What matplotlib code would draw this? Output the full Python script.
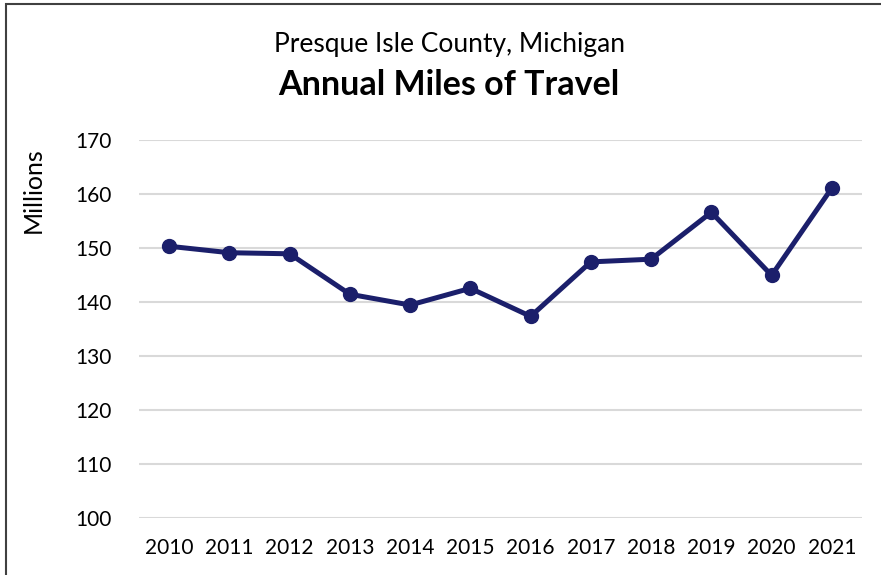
import matplotlib.pyplot as plt
from matplotlib.patches import Rectangle

years = [2010, 2011, 2012, 2013, 2014, 2015, 2016, 2017, 2018, 2019, 2020, 2021]
miles = [150.3, 149.1, 148.9, 141.4, 139.4, 142.5, 137.3, 147.4, 147.9, 156.6, 144.9, 161.1]
yticks = [100, 110, 120, 130, 140, 150, 160, 170]

plt.rcParams['font.family'] = ['Lato', 'DejaVu Sans']

fig = plt.figure(figsize=(8.81, 5.75), dpi=100)
ax = fig.add_axes([0.1578, 0.1, 0.8206, 0.6565])

ax.plot(years, miles, color='#1b1f6b', linewidth=3.6, marker='o', markersize=10,
        solid_joinstyle='round', zorder=3)

ax.set_xlim(2009.5, 2021.5)
ax.set_ylim(100, 170)
ax.set_xticks(years)
ax.set_xticklabels([str(y) for y in years])
ax.set_yticks(yticks)
ax.grid(axis='y', color='#d9d9d9', linewidth=1.5)
ax.set_axisbelow(True)
for s in ax.spines.values():
    s.set_visible(False)
ax.tick_params(length=0, labelsize=15, pad=15, colors='black')
ax.tick_params(axis='y', pad=20)
ax.set_ylabel('Millions', fontsize=18)
ax.yaxis.set_label_coords(-0.131, 0.868)

fig.text(0.51, 0.923, 'Presque Isle County, Michigan', ha='center', va='center', fontsize=19)
fig.text(0.51, 0.852, 'Annual Miles of Travel', ha='center', va='center',
         fontsize=24.5, fontweight='bold')

# outer frame, open on the right and bottom
fig.patches.append(Rectangle((6 / 881, -0.1), 1.1, 1.1 - 4.5 / 575, transform=fig.transFigure,
                             fill=False, edgecolor='#404040', linewidth=1.5))

fig.savefig('out.png', dpi=100)
